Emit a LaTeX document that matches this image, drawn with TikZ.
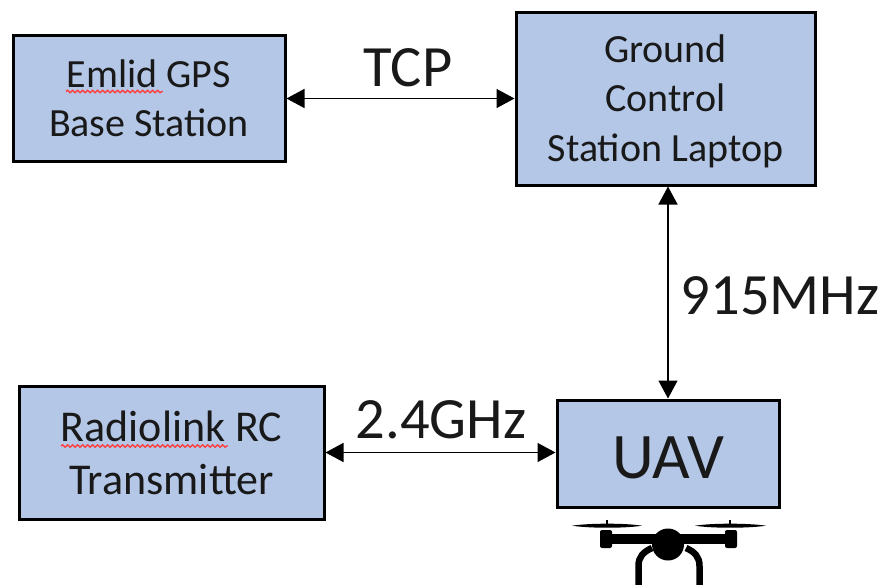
\documentclass[tikz,border=0pt]{standalone}
\usepackage{fontspec}
\setmainfont{Carlito}
\usetikzlibrary{arrows.meta,decorations.pathmorphing}
\definecolor{boxblue}{HTML}{B4C7E7}
\tikzset{
  blockbox/.style={draw=black,line width=3pt,fill=boxblue,inner sep=0pt,align=center,text=black!90!white,anchor=north west},
  blocktext/.style={font=\fontsize{40}{49.5}\selectfont},
  radiotext/.style={font=\fontsize{44}{53}\selectfont},
  linklabel/.style={text=black!90!white,inner sep=0pt},
  link/.style={{Triangle[length=18pt,width=19pt]}-{Triangle[length=18pt,width=19pt]},line width=1.5pt,black},
  squiggle/.style={draw=red!75!white,line width=1.4pt,decorate,decoration={snake,amplitude=1.2pt,segment length=5pt}},
  droneparts/.style={fill=black,draw=none},
  droneleg/.style={draw=black,line width=6.5pt}
}
\begin{document}
\begin{tikzpicture}[x=1pt,y=-1pt]
\useasboundingbox (0,0) rectangle (883,584);
\fill[white] (0,0) rectangle (883,584);
% boxes
\node[blockbox,blocktext,minimum width=272pt,minimum height=126pt] (emlid) at (11.5,34) {Emlid GPS\\Base Station};
\node[blockbox,blocktext,minimum width=299pt,minimum height=173pt] (gcs) at (514.5,10.5) {\rule{0pt}{33pt}Ground\\Control\\Station Laptop};
\node[blockbox,radiotext,minimum width=305pt,minimum height=133pt] (radio) at (17.5,384.5) {Radiolink RC\\Transmitter};
\node[blockbox,minimum width=222pt,minimum height=107pt,font=\fontsize{65}{68}\selectfont] (uav) at (555.5,398.5) {\rule{0pt}{50pt}UAV};
% spell-check squiggles
\coordinate (sq1a) at (66,91.5); \coordinate (sq1b) at (163,91.5);
\coordinate (sq2a) at (61,446); \coordinate (sq2b) at (228,446);
\draw[squiggle] (sq1a) -- (sq1b);
\draw[squiggle] (sq2a) -- (sq2b);
% connectors
\draw[link] (emlid.east) -- (emlid.east -| gcs.west);
\draw[link] (gcs.south -| uav.north) -- (uav.north);
\draw[link] (radio.east) -- (radio.east -| uav.west);
% labels
\node[linklabel,font=\fontsize{58.5}{62}\selectfont] (tcp) at (408,68) {TCP};
\node[linklabel,font=\fontsize{58.5}{62}\selectfont] (mhz) at (780,296) {915MHz};
\node[linklabel,font=\fontsize{58.5}{62}\selectfont] (ghz) at (441,420) {2.4GHz};
% drone
\begin{scope}
\clip (560,512) rectangle (780,584);
\fill[droneparts] (572,525.7) .. controls (590,523) and (625,523) .. (642,525.7) .. controls (625,528.4) and (590,528.4) .. (572,525.7) -- cycle;
\fill[droneparts] (695,525.7) .. controls (712,523) and (748,523) .. (766,525.7) .. controls (748,528.4) and (712,528.4) .. (695,525.7) -- cycle;
\fill[droneparts] (605.8,520) rectangle (608.2,526);
\fill[droneparts] (729,520) rectangle (731.4,526);
\fill[droneparts,rounded corners=2pt] (600,530) rectangle (612,548);
\fill[droneparts,rounded corners=2pt] (725,530) rectangle (737,548);
\fill[droneparts] (605,534) rectangle (732,543.5);
\fill[droneparts] (668,544.5) circle (16);
\draw[droneleg] (638.5,586) -- (638.5,566) .. controls (638.5,557) and (643,552) .. (652,548);
\draw[droneleg] (699.5,586) -- (699.5,566) .. controls (699.5,557) and (695,552) .. (686,548);
\end{scope}
\end{tikzpicture}
\end{document}
